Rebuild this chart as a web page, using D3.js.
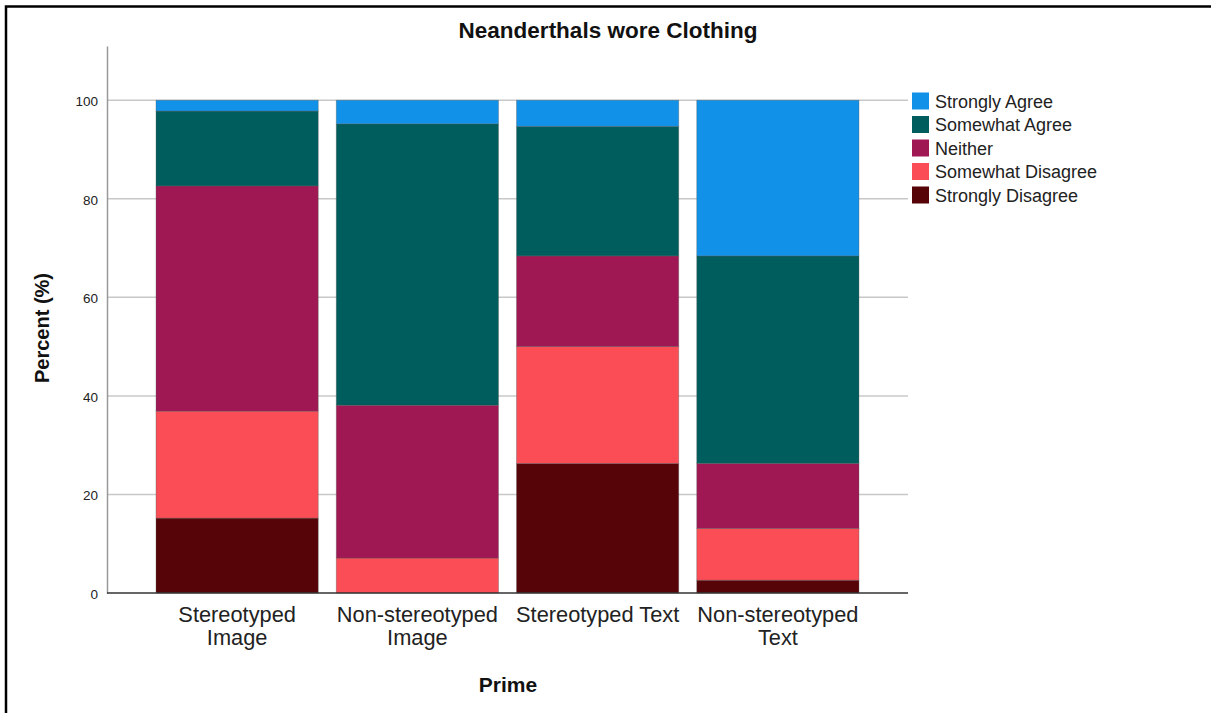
<!DOCTYPE html>
<html><head><meta charset="utf-8">
<script src="https://cdn.jsdelivr.net/npm/d3@7"></script>
<style>body{margin:0;background:#fff}svg{display:block}text{font-family:"Liberation Sans",Arial,sans-serif}</style>
</head><body>
<svg id="c" width="1211" height="713"></svg>
<script>
const categories = [["Stereotyped","Image"],["Non-stereotyped","Image"],["Stereotyped Text"],["Non-stereotyped","Text"]];
const categoryKeys = ["Stereotyped Image","Non-stereotyped Image","Stereotyped Text","Non-stereotyped Text"];
const responses = ["Strongly Disagree","Somewhat Disagree","Neither","Somewhat Agree","Strongly Agree"];
const legendOrder = ["Strongly Agree","Somewhat Agree","Neither","Somewhat Disagree","Strongly Disagree"];
const stronglyDisagree = [15.2, 0, 26.3, 2.6];
const somewhatDisagree = [21.7, 7.1, 23.7, 10.5];
const neither = [45.7, 31.0, 18.4, 13.2];
const somewhatAgree = [15.2, 57.1, 26.3, 42.1];
const stronglyAgree = [2.2, 4.8, 5.3, 31.6];
const yTicks = [0,20,40,60,80,100];
const colors = ["#570408","#fa4d56","#9f1853","#005d5d","#1192e8"];

const series = [stronglyDisagree, somewhatDisagree, neither, somewhatAgree, stronglyAgree];
const rows = categoryKeys.map((k,i)=>{const o={key:k}; responses.forEach((r,j)=>o[r]=series[j][i]); return o;});
const stack = d3.stack().keys(responses)(rows);

const svg = d3.select("#c");
const x = d3.scaleBand().domain(categoryKeys).range([147,868]).paddingInner(0.1).paddingOuter(0.05);
const y = d3.scaleLinear().domain([0,111]).range([593,46]);
const color = d3.scaleOrdinal().domain(responses).range(colors);

// border
svg.append("rect").attr("x",6).attr("y",6.5).attr("width",1230).attr("height",730)
  .attr("fill","none").attr("stroke","#000").attr("stroke-width",2.5);

// gridlines
svg.append("g").selectAll("line").data(yTicks.filter(d=>d>0)).join("line")
  .attr("x1",107).attr("x2",908).attr("y1",d=>y(d)).attr("y2",d=>y(d))
  .attr("stroke","#c8c8c8").attr("stroke-width",1.5);

// bars
svg.append("g").selectAll("g").data(stack).join("g").attr("fill",d=>color(d.key))
  .selectAll("rect").data(d=>d).join("rect")
  .attr("x",d=>x(d.data.key)).attr("width",x.bandwidth())
  .attr("y",d=>y(d[1])).attr("height",d=>y(d[0])-y(d[1]))
  .attr("stroke","rgba(90,90,90,0.45)").attr("stroke-width",0.8);

// y axis
const ya = svg.append("g").attr("transform","translate(107,0)")
  .call(d3.axisLeft(y).tickValues(yTicks).tickSize(0).tickPadding(9));
ya.select(".domain").attr("stroke","#999").attr("stroke-width",1.5);
ya.selectAll("text").attr("font-size",13.5).attr("dy","0.4em").attr("fill","#222").attr("font-family","Liberation Sans, Arial, sans-serif");

// x axis
const xa = svg.append("g").attr("transform","translate(0,593)")
  .call(d3.axisBottom(x).tickSize(0).tickFormat(()=>""));
xa.select(".domain").attr("d","M107,0H908").attr("stroke","#333").attr("stroke-width",1.5);
xa.selectAll(".tick").each(function(d,i){
  const t = d3.select(this).append("text").attr("fill","#222").attr("font-size",21.8)
    .attr("text-anchor","middle").attr("y",29);
  categories[i].forEach((s,j)=>t.append("tspan").attr("x",0).attr("dy",j?23:0).text(s));
});

// titles
svg.append("text").attr("x",608).attr("y",38).attr("text-anchor","middle")
  .attr("font-weight","bold").attr("font-size",22.5).attr("fill","#111").text("Neanderthals wore Clothing");
svg.append("text").attr("x",508).attr("y",692).attr("text-anchor","middle")
  .attr("font-weight","bold").attr("font-size",21).attr("fill","#111").text("Prime");
svg.append("text").attr("transform","translate(49,328) rotate(-90)").attr("text-anchor","middle")
  .attr("font-weight","bold").attr("font-size",20).attr("fill","#111").text("Percent (%)");

// legend
const lg = svg.append("g").selectAll("g").data(legendOrder).join("g")
  .attr("transform",(d,i)=>`translate(912,${101+i*23.5})`);
lg.append("rect").attr("x",0).attr("y",-8.5).attr("width",17).attr("height",17).attr("fill",d=>color(d));
lg.append("text").attr("x",23).attr("y",6.5).attr("font-size",18).attr("fill","#222").text(d=>d);
</script>
</body></html>
